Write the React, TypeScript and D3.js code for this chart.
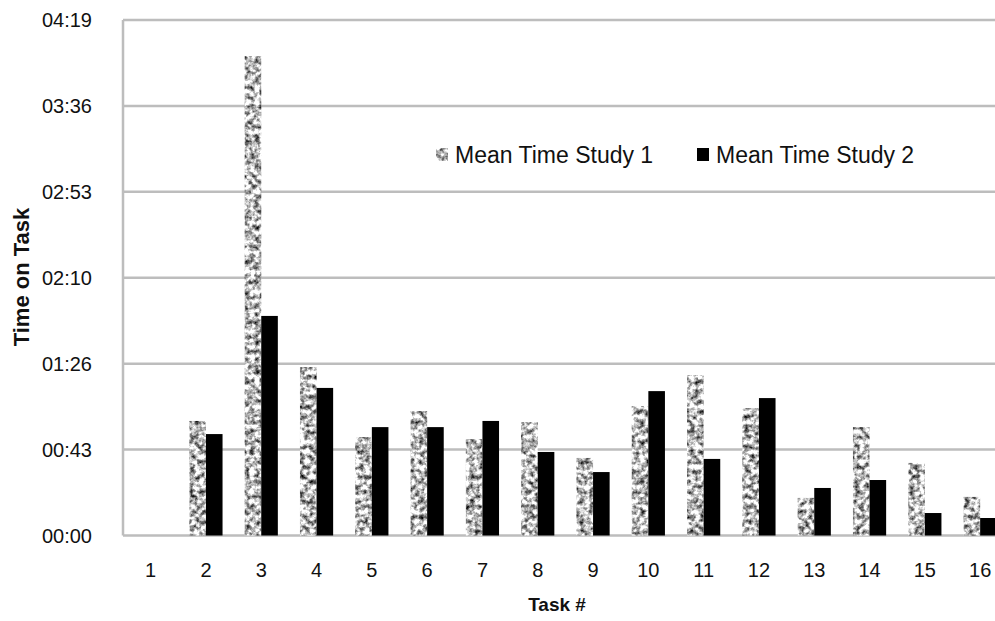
import * as d3 from "d3";

const TASKS = ["1", "2", "3", "4", "5", "6", "7", "8", "9", "10", "11", "12", "13", "14", "15", "16"];
// mean time on task, in seconds
const STUDY1 = [0, 57.6, 241, 84.7, 49.5, 62.6, 48.5, 57, 39, 65.1, 80.7, 64.1, 18.9, 54.5, 36.5, 19.4];
const STUDY2 = [0, 51, 110.4, 74.2, 54.5, 54.5, 57.6, 42, 31.9, 72.6, 38.5, 69.1, 23.9, 27.9, 11.3, 8.8];
const Y_TICKS = [0, 43.2, 86.4, 129.6, 172.8, 216, 259.2];
const SERIES = ["Mean Time Study 1", "Mean Time Study 2"];

const W = 995;
const H = 621;
const PLOT = { left: 123, top: 20, bottom: 535.5, step: 55.3 };
const FONT = "'Liberation Sans', Arial, Helvetica, sans-serif";
const GRID = "#bdbdbd";

const fmt = (s: number) => {
  const t = Math.round(s);
  const m = Math.floor(t / 60);
  const sec = t % 60;
  return `${String(m).padStart(2, "0")}:${String(sec).padStart(2, "0")}`;
};

export default function App() {
  const x = d3
    .scaleBand<string>()
    .domain(TASKS)
    .range([PLOT.left, PLOT.left + TASKS.length * PLOT.step])
    .paddingInner(0.4)
    .paddingOuter(0.2);
  const inner = d3.scaleBand<string>().domain(["s1", "s2"]).range([0, x.bandwidth()]);
  const y = d3.scaleLinear().domain([0, 259.2]).range([PLOT.bottom, PLOT.top]);
  const right = W;

  return (
    <div style={{ position: "absolute", left: 0, top: 0 }}>
      <svg width={W} height={H} style={{ display: "block", background: "#fff" }}>
        <defs>
          {/* speckled granite-like fill for study 1 */}
          <filter
            id="granite"
            x="0"
            y="0"
            width="100%"
            height="100%"
            colorInterpolationFilters="sRGB"
          >
            <feTurbulence type="fractalNoise" baseFrequency="0.2" numOctaves={3} seed={11} result="noise" />
            <feColorMatrix
              in="noise"
              type="matrix"
              values="1.9 0 0 0 -0.22  1.9 0 0 0 -0.22  1.9 0 0 0 -0.22  0 0 0 0 1"
              result="gray"
            />
            <feGaussianBlur in="gray" stdDeviation="0.4" result="soft" />
            <feComposite in="soft" in2="SourceGraphic" operator="in" />
          </filter>
        </defs>

        {/* gridlines */}
        {Y_TICKS.map((t) => (
          <line key={t} x1={PLOT.left} x2={right} y1={y(t)} y2={y(t)} stroke={GRID} strokeWidth={2.5} />
        ))}
        <line x1={PLOT.left} x2={PLOT.left} y1={y(259.2)} y2={y(0)} stroke={GRID} strokeWidth={2.5} />

        {/* y tick labels */}
        {Y_TICKS.map((t) => (
          <text
            key={`l${t}`}
            x={92}
            y={y(t)}
            textAnchor="end"
            dominantBaseline="central"
            style={{ font: `20px ${FONT}` }}
            fill="#111"
          >
            {fmt(t)}
          </text>
        ))}

        {/* bars */}
        {TASKS.map((task, i) => {
          const x0 = x(task)!;
          return (
            <g key={task}>
              {STUDY1[i] > 0 && (
                <rect
                  x={x0 + inner("s1")!}
                  y={y(STUDY1[i])}
                  width={inner.bandwidth()}
                  height={y(0) - y(STUDY1[i])}
                  fill="#999"
                  filter="url(#granite)"
                />
              )}
              {STUDY2[i] > 0 && (
                <rect
                  x={x0 + inner("s2")!}
                  y={y(STUDY2[i])}
                  width={inner.bandwidth()}
                  height={y(0) - y(STUDY2[i])}
                  fill="#000"
                />
              )}
            </g>
          );
        })}

        {/* x labels */}
        {TASKS.map((task) => (
          <text
            key={`x${task}`}
            x={x(task)! + x.bandwidth() / 2}
            y={570}
            textAnchor="middle"
            dominantBaseline="central"
            style={{ font: `20px ${FONT}` }}
            fill="#111"
          >
            {task}
          </text>
        ))}

        {/* axis titles */}
        <text
          x={557}
          y={604}
          textAnchor="middle"
          dominantBaseline="central"
          style={{ font: `bold 19px ${FONT}` }}
          fill="#111"
        >
          Task #
        </text>
        <text
          transform="translate(21,277) rotate(-90)"
          textAnchor="middle"
          dominantBaseline="central"
          style={{ font: `bold 22px ${FONT}` }}
          fill="#111"
        >
          Time on Task
        </text>

        {/* legend */}
        <g>
          <rect x={436} y={148} width={12} height={13} fill="#999" filter="url(#granite)" />
          <text x={455} y={155} dominantBaseline="central" style={{ font: `23px ${FONT}` }} fill="#111">
            {SERIES[0]}
          </text>
          <rect x={697} y={148} width={12} height={13} fill="#000" />
          <text x={716} y={155} dominantBaseline="central" style={{ font: `23px ${FONT}` }} fill="#111">
            {SERIES[1]}
          </text>
        </g>
      </svg>
    </div>
  );
}
